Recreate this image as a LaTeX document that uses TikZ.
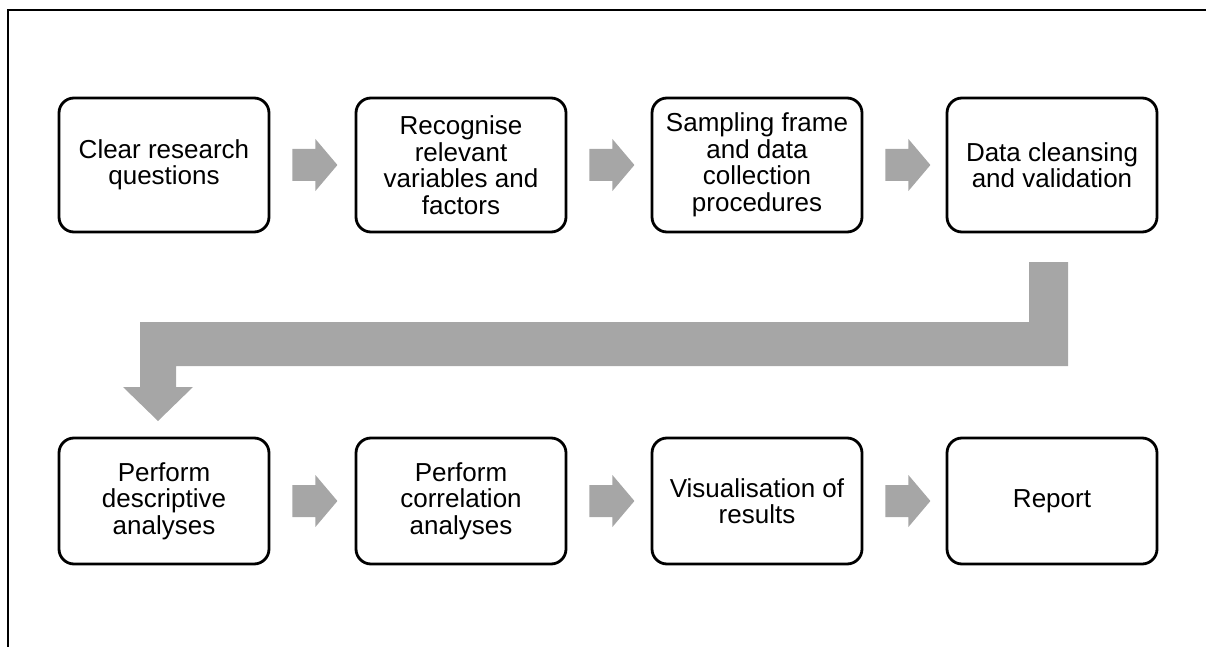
\documentclass[tikz,border=0pt]{standalone}
\usepackage{fontspec}
\setmainfont{Liberation Sans}
\definecolor{arrowgray}{HTML}{A6A6A6}
\tikzset{
  stepbox/.style={draw=black, line width=2.8pt, rounded corners=15pt, minimum width=210pt, align=center, font=\fontsize{26}{26.5}\selectfont, inner sep=0pt},
  toprow/.style={stepbox, minimum height=134pt},
  botrow/.style={stepbox, minimum height=126pt},
  grayarrow/.style={fill=arrowgray, draw=none}
}
\newcommand{\smallarrow}[2]{%
  \fill[arrowgray] ($(#1.east)+(22pt,16pt)$) -- ++(23pt,0) -- ++(0,10pt) -- ++(22pt,-26pt) -- ++(-22pt,-26pt) -- ++(0,10pt) -- ++(-23pt,0) -- cycle;}
\usetikzlibrary{calc}
\begin{document}
\begin{tikzpicture}[x=1pt,y=-1pt]
\useasboundingbox (0,0) rectangle (1206,647);
% frame
\draw[line width=2pt] (8,647) -- (8,10) -- (1206,10);
% top row
\node[toprow] (b1) at (164,165) {Clear research\\questions};
\node[toprow] (b2) at (461,165) {Recognise\\relevant\\variables and\\factors};
\node[toprow] (b3) at (757,165) {Sampling frame\\and data\\collection\\procedures};
\node[toprow] (b4) at (1052,165) {Data cleansing\\and validation};
% bottom row
\node[botrow] (c1) at (164,501) {Perform\\descriptive\\analyses};
\node[botrow] (c2) at (461,501) {Perform\\correlation\\analyses};
\node[botrow] (c3) at (757,501) {Visualisation of\\results};
\node[botrow] (c4) at (1052,501) {Report};
% small arrows
\smallarrow{b1}{b2}
\smallarrow{b2}{b3}
\smallarrow{b3}{b4}
\smallarrow{c1}{c2}
\smallarrow{c2}{c3}
\smallarrow{c3}{c4}
% big bent arrow
\fill[arrowgray] (1029,262) -- (1068,262) -- (1068,366) -- (176,366) -- (176,387) -- (193,387) -- (158,421) -- (123,387) -- (140,387) -- (140,322) -- (1029,322) -- cycle;
\end{tikzpicture}
\end{document}
